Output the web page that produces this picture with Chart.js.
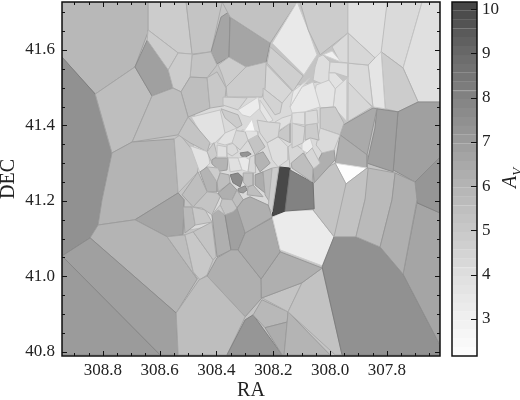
<!DOCTYPE html>
<html>
<head>
<meta charset="utf-8">
<script src="https://cdn.jsdelivr.net/npm/chart.js@4/dist/chart.umd.js"></script>
<style>
html, body { margin: 0; padding: 0; background: #fff; }
#wrap { position: relative; width: 520px; height: 400px; overflow: hidden; }
#map { position: absolute; left: 0; top: 0; }
#bar { position: absolute; left: 445px; top: 0; }
#avLabel { position: absolute; left: 496px; top: 166px; width: 28px; height: 24px; line-height: 24px; text-align: center;
  font: italic 20px "Liberation Serif", serif; color: #222; transform: rotate(-90deg); }
#avLabel sub { font-size: 13px; line-height: 0; }
</style>
</head>
<body>
<div id="wrap">
  <canvas id="map" width="520" height="400"></canvas>
  <canvas id="bar" width="75" height="400"></canvas>
  <div id="avLabel">A<sub>V</sub></div>
</div>
<script>
// axis ranges and ticks
const raRange = [307.613, 308.944];
const decRange = [40.789, 41.727];
const avRange = [2.16, 10.16];
const raTicks = [308.8, 308.6, 308.4, 308.2, 308.0, 307.8];
const raMinor = [308.9, 308.85, 308.75, 308.7, 308.65, 308.55, 308.5, 308.45, 308.35, 308.3, 308.25, 308.15, 308.1, 308.05, 307.95, 307.9, 307.85, 307.75, 307.7, 307.65];
const decTicks = [40.8, 41.0, 41.2, 41.4, 41.6];
const decMinor = [40.85, 40.9, 40.95, 41.05, 41.1, 41.15, 41.25, 41.3, 41.35, 41.45, 41.5, 41.55, 41.65, 41.7];
const avTicks = [3, 4, 5, 6, 7, 8, 9, 10];
const barLevels = [2.16, 2.36, 2.56, 2.76, 2.96, 3.16, 3.36, 3.56, 3.76, 3.96, 4.16, 4.36, 4.56, 4.76, 4.96, 5.16, 5.36, 5.56, 5.76, 5.96, 6.16, 6.36, 6.56, 6.76, 6.96, 7.16, 7.36, 7.56, 7.76, 7.96, 8.16, 8.36, 8.56, 8.76, 8.96, 9.16, 9.36, 9.56, 9.76, 9.96, 10.16];

// colour map stops: Av to grey level
const mapAv = [2.1, 3, 4, 5, 6, 7, 8, 9, 10.2];
const mapGrey = [255, 240, 222, 200, 180, 155, 130, 105, 65];

// Voronoi cells, ra,dec pairs
const cellVerts = [
  [308.944,41.727, 307.613,41.727, 307.613,40.789, 308.944,40.789],
  [308.475,41.467, 308.000,41.520, 307.947,41.295, 308.060,41.242, 308.204,41.163, 308.493,41.123],
  [308.944,41.727, 308.641,41.727, 308.641,41.648, 308.687,41.555, 308.827,41.483, 308.944,41.581],
  [308.944,41.581, 308.827,41.483, 308.799,41.420, 308.768,41.327, 308.792,41.242, 308.803,41.203, 308.817,41.136, 308.845,41.102, 308.944,41.054],
  [308.827,41.483, 308.687,41.555, 308.627,41.478, 308.697,41.356, 308.768,41.327],
  [308.687,41.555, 308.644,41.626, 308.570,41.547, 308.553,41.499, 308.627,41.478],
  [308.641,41.727, 308.641,41.653, 308.535,41.592, 308.486,41.589, 308.507,41.727],
  [308.641,41.653, 308.535,41.592, 308.570,41.547, 308.644,41.626],
  [308.507,41.727, 308.486,41.589, 308.419,41.595, 308.380,41.727],
  [308.419,41.595, 308.384,41.687, 308.352,41.703, 308.356,41.581, 308.398,41.563],
  [308.352,41.687, 308.211,41.618, 308.225,41.568, 308.296,41.555, 308.356,41.581],
  [308.380,41.727, 308.352,41.687, 308.211,41.618, 308.116,41.727],
  [308.116,41.727, 308.204,41.618, 308.092,41.534, 308.046,41.587, 308.077,41.653],
  [308.106,41.727, 308.077,41.653, 308.035,41.587, 307.937,41.645, 307.937,41.727],
  [307.937,41.727, 307.799,41.727, 307.813,41.595, 307.842,41.579, 307.937,41.645],
  [307.799,41.727, 307.676,41.727, 307.743,41.552, 307.820,41.595],
  [307.676,41.727, 307.613,41.727, 307.613,41.462, 307.690,41.462, 307.743,41.552],
  [307.820,41.595, 307.743,41.552, 307.690,41.462, 307.761,41.436, 307.806,41.444],
  [307.842,41.579, 307.820,41.595, 307.806,41.444, 307.849,41.449, 307.866,41.560],
  [307.937,41.565, 307.866,41.560, 307.849,41.449, 307.937,41.507],
  [307.937,41.645, 307.842,41.579, 307.866,41.560, 307.937,41.565],
  [307.937,41.645, 307.993,41.608, 307.965,41.568, 307.937,41.565],
  [308.025,41.587, 307.993,41.597, 307.961,41.568],
  [308.042,41.581, 308.025,41.587, 308.000,41.568, 308.004,41.520, 308.028,41.510, 308.060,41.520, 308.053,41.555],
  [308.000,41.568, 307.937,41.565, 307.937,41.528, 307.982,41.539, 308.004,41.539],
  [308.004,41.539, 307.982,41.539, 307.947,41.512, 307.982,41.497, 308.004,41.520],
  [307.937,41.515, 307.852,41.449, 307.940,41.409],
  [307.982,41.497, 307.937,41.528, 307.940,41.409, 307.989,41.449],
  [308.049,41.507, 308.004,41.520, 307.982,41.497, 307.989,41.449, 308.035,41.446, 308.060,41.467],
  [308.211,41.608, 308.095,41.531, 308.130,41.491, 308.222,41.565],
  [308.229,41.565, 308.134,41.491, 308.169,41.459, 308.236,41.499],
  [308.394,41.560, 308.356,41.581, 308.296,41.555, 308.366,41.502, 308.380,41.534],
  [308.296,41.555, 308.225,41.568, 308.229,41.499, 308.240,41.475, 308.363,41.475, 308.366,41.502],
  [308.486,41.587, 308.419,41.595, 308.398,41.560, 308.433,41.526, 308.493,41.528],
  [308.535,41.592, 308.486,41.589, 308.493,41.528, 308.525,41.489, 308.553,41.499, 308.570,41.547],
  [308.493,41.528, 308.433,41.526, 308.423,41.446, 308.500,41.422, 308.525,41.489],
  [308.433,41.526, 308.398,41.542, 308.366,41.499, 308.373,41.452, 308.423,41.446],
  [308.627,41.478, 308.553,41.499, 308.525,41.489, 308.500,41.422, 308.535,41.375, 308.697,41.356],
  [308.768,41.327, 308.697,41.356, 308.549,41.364, 308.535,41.221, 308.687,41.150, 308.817,41.136, 308.803,41.203, 308.792,41.242],
  [308.549,41.364, 308.528,41.375, 308.458,41.309, 308.468,41.274, 308.535,41.221],
  [308.687,41.150, 308.535,41.221, 308.514,41.203, 308.518,41.110, 308.574,41.105],
  [308.845,41.102, 308.817,41.136, 308.687,41.150, 308.574,41.105, 308.468,40.993, 308.542,40.903],
  [308.944,41.054, 308.845,41.102, 308.542,40.903, 308.535,40.792, 308.599,40.792],
  [308.944,41.054, 308.599,40.792, 308.944,40.792],
  [308.574,41.105, 308.511,41.110, 308.482,41.012, 308.468,40.993],
  [308.511,41.110, 308.482,41.118, 308.412,41.044, 308.433,41.004, 308.458,40.991, 308.482,41.012],
  [308.482,41.118, 308.416,41.144, 308.401,41.052, 308.412,41.044],
  [308.518,41.184, 308.486,41.184, 308.475,41.136, 308.511,41.115],
  [308.486,41.184, 308.440,41.176, 308.416,41.144, 308.475,41.136],
  [308.416,41.163, 308.394,41.176, 308.370,41.163, 308.349,41.070, 308.398,41.052],
  [308.370,41.163, 308.328,41.189, 308.299,41.115, 308.324,41.070, 308.349,41.070],
  [308.433,41.001, 308.398,41.049, 308.349,41.070, 308.324,41.070, 308.243,40.993, 308.240,40.943, 308.299,40.893],
  [308.461,40.991, 308.433,41.001, 308.299,40.893, 308.363,40.792, 308.535,40.792, 308.542,40.903],
  [308.363,40.792, 308.299,40.885, 308.271,40.898, 308.169,40.792],
  [308.271,40.898, 308.240,40.938, 308.148,40.906, 308.151,40.879, 308.229,40.864],
  [308.229,40.864, 308.151,40.879, 308.162,40.792, 308.169,40.792],
  [308.240,40.943, 308.099,40.983, 308.148,40.906],
  [308.148,40.906, 308.000,40.792, 308.162,40.792],
  [308.099,40.983, 308.028,41.022, 307.958,40.792, 307.982,40.792, 308.148,40.906],
  [308.243,40.993, 308.176,41.065, 308.028,41.022, 308.099,40.983, 308.240,40.943],
  [308.324,41.070, 308.299,41.115, 308.204,41.155, 308.176,41.065, 308.243,40.993],
  [308.204,41.157, 308.159,41.173, 308.060,41.176, 307.986,41.105, 308.028,41.028, 308.176,41.070],
  [307.986,41.105, 307.909,41.105, 307.824,41.078, 307.743,41.006, 307.613,40.818, 307.613,40.792, 307.958,40.792, 308.028,41.025],
  [307.694,41.195, 307.613,41.168, 307.613,40.818, 307.743,41.006],
  [307.701,41.250, 307.613,41.322, 307.613,41.168, 307.694,41.195],
  [307.761,41.436, 307.690,41.462, 307.613,41.462, 307.613,41.316, 307.701,41.250, 307.778,41.282],
  [307.835,41.444, 307.761,41.436, 307.778,41.277, 307.870,41.300, 307.842,41.393],
  [307.954,41.401, 307.849,41.446, 307.835,41.444, 307.870,41.322, 307.965,41.375],
  [307.982,41.300, 307.965,41.375, 307.870,41.322, 307.870,41.287],
  [307.982,41.300, 307.870,41.287, 307.944,41.245],
  [308.060,41.269, 307.982,41.300, 307.944,41.245, 307.951,41.189, 307.986,41.105, 308.060,41.176],
  [307.944,41.245, 307.870,41.287, 307.842,41.274, 307.877,41.203, 307.909,41.105, 307.986,41.105],
  [307.866,41.287, 307.771,41.274, 307.782,41.203, 307.824,41.078, 307.909,41.105, 307.877,41.203],
  [307.771,41.274, 307.701,41.250, 307.694,41.203, 307.743,41.006, 307.824,41.078, 307.782,41.203],
  [308.180,41.290, 308.141,41.287, 308.159,41.173, 308.204,41.160],
  [308.141,41.282, 308.060,41.248, 308.056,41.179, 308.159,41.173],
  [308.060,41.282, 308.028,41.327, 307.986,41.335, 307.982,41.309, 308.056,41.248],
  [308.035,41.446, 307.982,41.449, 307.951,41.406, 307.965,41.375, 308.035,41.393],
  [308.035,41.393, 307.965,41.375, 307.986,41.335, 308.028,41.327, 308.049,41.348],
  [308.489,41.422, 308.387,41.441, 308.370,41.380, 308.405,41.354, 308.430,41.348],
  [308.384,41.444, 308.324,41.428, 308.310,41.401, 308.328,41.393, 308.370,41.420],
  [308.377,41.475, 308.292,41.473, 308.324,41.441, 308.377,41.454],
  [308.324,41.441, 308.254,41.475, 308.247,41.446, 308.282,41.422, 308.310,41.428],
  [308.247,41.467, 308.201,41.414, 308.218,41.406, 308.247,41.441],
  [308.236,41.499, 308.169,41.459, 308.176,41.433, 308.194,41.428, 308.236,41.473],
  [308.500,41.422, 308.423,41.354, 308.433,41.330, 308.493,41.354, 308.535,41.375],
  [308.493,41.346, 308.430,41.330, 308.423,41.300, 308.458,41.274],
  [308.433,41.330, 308.409,41.354, 308.398,41.322, 308.416,41.300],
  [308.416,41.309, 308.405,41.314, 308.359,41.314, 308.363,41.282, 308.387,41.279, 308.416,41.298],
  [308.352,41.269, 308.324,41.274, 308.306,41.261, 308.317,41.237, 308.342,41.248],
  [308.317,41.327, 308.289,41.330, 308.278,41.324, 308.299,41.316, 308.313,41.319],
  [308.324,41.232, 308.299,41.240, 308.292,41.229, 308.306,41.221, 308.324,41.224],
  [308.458,41.277, 308.433,41.290, 308.398,41.250, 308.398,41.224, 308.433,41.224],
  [308.433,41.290, 308.394,41.287, 308.387,41.274, 308.398,41.250],
  [308.387,41.274, 308.356,41.269, 308.352,41.248, 308.394,41.224, 308.398,41.250],
  [308.465,41.277, 308.433,41.224, 308.482,41.184, 308.521,41.216],
  [308.433,41.224, 308.398,41.221, 308.387,41.211, 308.416,41.163, 308.451,41.181, 308.482,41.184],
  [308.352,41.248, 308.328,41.229, 308.345,41.203, 308.380,41.205, 308.394,41.221],
  [308.328,41.229, 308.306,41.203, 308.328,41.181, 308.345,41.203],
  [308.380,41.205, 308.345,41.203, 308.328,41.181, 308.342,41.171, 308.370,41.163, 308.387,41.189],
  [308.416,41.163, 308.387,41.189, 308.370,41.163, 308.394,41.176],
  [308.306,41.274, 308.271,41.274, 308.271,41.242, 308.292,41.237, 308.306,41.250],
  [308.289,41.237, 308.271,41.242, 308.236,41.211, 308.292,41.216],
  [308.264,41.269, 308.236,41.277, 308.229,41.221, 308.264,41.242],
  [308.236,41.277, 308.204,41.287, 308.211,41.195, 308.229,41.216],
  [308.204,41.287, 308.180,41.290, 308.204,41.171, 308.218,41.184],
  [308.328,41.181, 308.306,41.203, 308.282,41.211, 308.218,41.189, 308.204,41.157, 308.299,41.115],
  [308.398,41.348, 308.363,41.343, 308.363,41.316, 308.398,41.316],
  [308.363,41.348, 308.335,41.354, 308.324,41.330, 308.345,41.319, 308.363,41.327],
  [308.359,41.314, 308.324,41.314, 308.310,41.282, 308.352,41.277],
  [308.324,41.314, 308.299,41.316, 308.282,41.309, 308.289,41.277, 308.310,41.282],
  [308.282,41.316, 308.264,41.322, 308.264,41.300, 308.261,41.274, 308.289,41.277],
  [308.264,41.322, 308.236,41.330, 308.211,41.300, 308.247,41.277, 308.264,41.300],
  [308.289,41.361, 308.257,41.377, 308.229,41.343, 308.264,41.322],
  [308.222,41.354, 308.183,41.370, 308.148,41.343, 308.148,41.309, 308.183,41.290, 308.204,41.309],
  [308.148,41.343, 308.130,41.354, 308.095,41.335, 308.088,41.322, 308.141,41.287],
  [308.099,41.354, 308.070,41.367, 308.060,41.343, 308.081,41.327, 308.099,41.335],
  [308.088,41.322, 308.063,41.340, 308.035,41.300, 308.063,41.282],
  [308.137,41.300, 308.095,41.327, 308.060,41.287, 308.063,41.250, 308.134,41.287],
  [308.187,41.380, 308.141,41.406, 308.141,41.354, 308.183,41.370],
  [308.134,41.406, 308.088,41.396, 308.095,41.354, 308.134,41.340],
  [308.088,41.401, 308.046,41.406, 308.039,41.361, 308.070,41.367, 308.088,41.361],
  [308.169,41.420, 308.134,41.428, 308.141,41.406, 308.187,41.383, 308.194,41.409],
  [308.134,41.433, 308.088,41.436, 308.088,41.401, 308.134,41.406],
  [308.088,41.436, 308.046,41.441, 308.042,41.406, 308.088,41.401],
  [308.141,41.449, 308.099,41.502, 308.060,41.515, 308.035,41.449, 308.088,41.436, 308.134,41.433],
  [308.130,41.491, 308.070,41.526, 308.099,41.502, 308.141,41.449],
  [308.257,41.414, 308.218,41.409, 308.176,41.406, 308.183,41.370, 308.222,41.354, 308.247,41.380],
  [308.310,41.388, 308.257,41.385, 308.254,41.375, 308.289,41.361, 308.317,41.361],
  [308.345,41.388, 308.299,41.383, 308.289,41.361, 308.317,41.335, 308.345,41.354],
  [308.370,41.380, 308.328,41.393, 308.345,41.354, 308.370,41.348, 308.398,41.354],
  [308.303,41.385, 308.275,41.417, 308.264,41.385]
];
const cellAv = [
  5.2,
  4.2, 5.8, 7.4, 5.5, 6.8, 4.8, 4.8, 5.2, 6.6, 6.6, 5.3, 3.4, 4.8, 3.9, 4.2, 3.9, 4.8, 3.6, 4.2, 4.3, 4.2,
  3.0, 4.0, 4.0, 3.8, 4.3, 3.8, 3.6, 4.7, 4.3, 4.8, 4.8, 5.2, 4.8, 5.5, 5.0, 5.5, 6.0, 5.0, 6.6, 6.0, 6.8, 7.0,
  5.5, 5.0, 5.2, 5.7, 5.0, 6.2, 6.8, 6.2, 5.5, 7.2, 5.8, 6.3, 5.2, 6.0, 5.3, 6.2, 6.4, 3.3, 7.4, 6.6, 7.2, 6.8,
  6.8, 6.4, 6.2, 2.2, 5.2, 5.3, 5.7, 6.2, 10.0, 8.0, 6.2, 4.8, 4.2, 3.8, 4.8, 4.3, 3.2, 3.6, 4.5, 5.2, 3.8, 4.8,
  6.0, 7.6, 7.2, 7.0, 6.0, 4.8, 5.5, 5.5, 5.2, 6.2, 5.5, 5.2, 4.8, 5.3, 5.5, 6.3, 5.5, 4.8, 6.2, 3.9, 4.2, 3.9,
  3.4, 4.3, 6.0, 5.2, 4.0, 4.3, 3.2, 4.3, 5.5, 5.0, 4.3, 4.8, 3.9, 3.9, 4.2, 3.4, 3.4, 4.3, 3.8, 4.3, 3.8, 2.5
];

const serif = '"Liberation Serif", serif';
const inkColor = '#222';

function greyFor(av) {
  let i = 0;
  while (i < mapAv.length - 2 && av > mapAv[i + 1]) i++;
  const t = (av - mapAv[i]) / (mapAv[i + 1] - mapAv[i]);
  return mapGrey[i] + t * (mapGrey[i + 1] - mapGrey[i]);
}
function rgb(g) {
  const v = Math.round(Math.max(0, Math.min(255, g)));
  return 'rgb(' + v + ',' + v + ',' + v + ')';
}

// filled polygon under each dataset's outline
const cellFill = {
  id: 'cellFill',
  beforeDatasetDraw(chart, args) {
    const pts = args.meta.data;
    const ctx = chart.ctx;
    ctx.save();
    ctx.beginPath();
    pts.forEach((p, i) => i ? ctx.lineTo(p.x, p.y) : ctx.moveTo(p.x, p.y));
    ctx.closePath();
    ctx.fillStyle = chart.data.datasets[args.index].backgroundColor;
    ctx.fill();
    ctx.restore();
  }
};

function tickLine(ctx, x0, y0, x1, y1) {
  ctx.beginPath();
  ctx.moveTo(x0, y0);
  ctx.lineTo(x1, y1);
  ctx.stroke();
}

const mapFrame = {
  id: 'mapFrame',
  afterDraw(chart) {
    const { ctx, chartArea: a, scales } = chart;
    ctx.save();
    ctx.strokeStyle = '#111';
    ctx.lineWidth = 1;
    [[raTicks, 5], [raMinor, 3]].forEach(([vals, len]) => vals.forEach(v => {
      const x = Math.round(scales.x.getPixelForValue(v)) + 0.5;
      tickLine(ctx, x, a.bottom, x, a.bottom - len);
      tickLine(ctx, x, a.top, x, a.top + len);
    }));
    [[decTicks, 5], [decMinor, 3]].forEach(([vals, len]) => vals.forEach(v => {
      const y = Math.round(scales.y.getPixelForValue(v)) + 0.5;
      tickLine(ctx, a.left, y, a.left + len, y);
      tickLine(ctx, a.right, y, a.right - len, y);
    }));
    ctx.lineWidth = 1.5;
    ctx.strokeRect(a.left, a.top, a.right - a.left, a.bottom - a.top);
    ctx.restore();
  }
};

const barFrame = {
  id: 'barFrame',
  afterDraw(chart) {
    const { ctx, chartArea: a, scales } = chart;
    ctx.save();
    ctx.strokeStyle = '#111';
    ctx.lineWidth = 1;
    avTicks.forEach(v => {
      const y = Math.round(scales.y.getPixelForValue(v)) + 0.5;
      tickLine(ctx, a.right, y, a.right - 6, y);
    });
    ctx.lineWidth = 1.5;
    ctx.strokeRect(a.left, a.top, a.right - a.left, a.bottom - a.top);
    ctx.restore();
  }
};

function noPadding(s) {
  s.paddingTop = 0;
  s.paddingBottom = 0;
  s.paddingLeft = 0;
  s.paddingRight = 0;
}

new Chart(document.getElementById('map'), {
  type: 'scatter',
  data: {
    datasets: cellVerts.map((flat, n) => {
      const pts = [];
      for (let i = 0; i < flat.length; i += 2) pts.push({ x: flat[i], y: flat[i + 1] });
      pts.push(pts[0]);
      const g = greyFor(cellAv[n]);
      return {
        label: 'cell ' + n,
        data: pts,
        order: -n,
        showLine: true,
        fill: false,
        tension: 0,
        pointRadius: 0,
        borderWidth: 1,
        borderColor: n === 0 ? rgb(g) : rgb(g * 0.87),
        backgroundColor: rgb(g)
      };
    })
  },
  options: {
    animation: false,
    responsive: false,
    events: [],
    layout: { padding: { top: 2, right: 80, left: 0, bottom: 0 } },
    plugins: { legend: { display: false }, tooltip: { enabled: false } },
    scales: {
      x: {
        type: 'linear',
        reverse: true,
        min: raRange[0],
        max: raRange[1],
        afterBuildTicks: s => { s.ticks = raTicks.map(v => ({ value: v })); },
        afterFit: s => { s.height = 44; noPadding(s); },
        grid: { display: false, drawTicks: false },
        border: { display: false },
        ticks: { callback: v => v.toFixed(1), color: inkColor, maxRotation: 0, padding: 4, font: { family: serif, size: 17 } },
        title: { display: true, text: 'RA', color: inkColor, padding: { top: 0, bottom: -3 }, font: { family: serif, size: 20 } }
      },
      y: {
        type: 'linear',
        min: decRange[0],
        max: decRange[1],
        afterBuildTicks: s => { s.ticks = decTicks.map(v => ({ value: v })); },
        afterFit: s => { s.width = 62; noPadding(s); },
        grid: { display: false, drawTicks: false },
        border: { display: false },
        ticks: { callback: v => v.toFixed(1), color: inkColor, padding: 7, font: { family: serif, size: 17 } },
        title: { display: true, text: 'DEC', color: inkColor, padding: { top: -3, bottom: 0 }, font: { family: serif, size: 20 } }
      }
    }
  },
  plugins: [cellFill, mapFrame]
});

new Chart(document.getElementById('bar'), {
  type: 'bar',
  data: {
    labels: ['Av'],
    datasets: barLevels.slice(1).map((hi, i) => {
      const c = rgb(greyFor((barLevels[i] + hi) / 2));
      return { data: [[barLevels[i], hi]], grouped: false, backgroundColor: c, borderColor: c, borderWidth: 1, barPercentage: 1, categoryPercentage: 1 };
    })
  },
  options: {
    animation: false,
    responsive: false,
    events: [],
    layout: { padding: { top: 2, left: 7, right: 0, bottom: 44 } },
    plugins: { legend: { display: false }, tooltip: { enabled: false } },
    scales: {
      x: { display: false },
      y: {
        position: 'right',
        min: avRange[0],
        max: avRange[1],
        afterBuildTicks: s => { s.ticks = avTicks.map(v => ({ value: v })); },
        afterFit: s => { s.width = 43; noPadding(s); },
        grid: { display: false, drawTicks: false },
        border: { display: false },
        ticks: { color: inkColor, padding: 5, font: { family: serif, size: 17 } }
      }
    }
  },
  plugins: [barFrame]
});
</script>
</body>
</html>
